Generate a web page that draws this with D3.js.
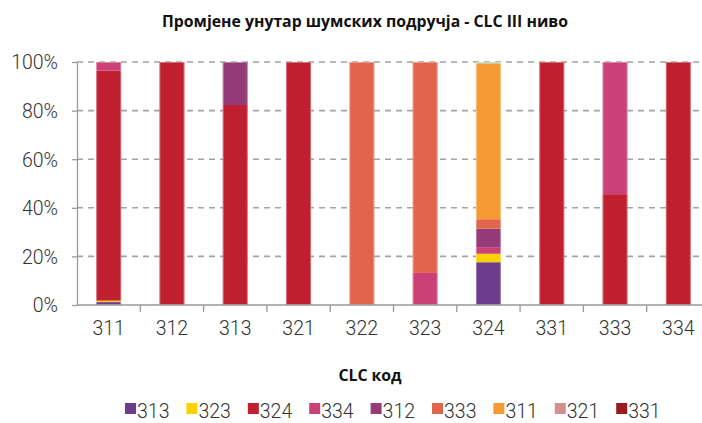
<!DOCTYPE html>
<html><head><meta charset="utf-8">
<script src="https://cdn.jsdelivr.net/npm/d3@7"></script>
<style>
html,body{margin:0;padding:0;background:#fff;}
svg{display:block;}
</style></head>
<body>
<svg id="chart" width="702" height="423"></svg>
<script>
const categories = ["311","312","313","321","322","323","324","331","333","334"];
const seriesKeys = ["313","323","324","334","312","333","311","321","331","other"];
const legendKeys = ["313","323","324","334","312","333","311","321","331"];
const seriesColors = ["#6d3d8c","#fdd100","#c01f2f","#cc4078","#953b77","#e0654c","#f69a35","#d58e8e","#9a1b1f","#c3c99b"];
// percentage values per series, in category order
const s313   = [1.2, 0, 0, 0, 0, 0, 17.6, 0, 0, 0];
const s323   = [0.6, 0, 0, 0, 0, 0, 3.5, 0, 0, 0];
const s324   = [94.6, 100, 82.3, 100, 0, 0, 0, 100, 45.6, 100];
const s334   = [3.6, 0, 0, 0, 0, 13.2, 2.7, 0, 54.4, 0];
const s312   = [0, 0, 17.7, 0, 0, 0, 7.6, 0, 0, 0];
const s333   = [0, 0, 0, 0, 100, 86.8, 3.9, 0, 0, 0];
const s311   = [0, 0, 0, 0, 0, 0, 63.9, 0, 0, 0];
const s321   = [0, 0, 0, 0, 0, 0, 0, 0, 0, 0];
const s331   = [0, 0, 0, 0, 0, 0, 0, 0, 0, 0];
const sOther = [0, 0, 0, 0, 0, 0, 0.8, 0, 0, 0];
const yTicks = [0,20,40,60,80,100];
const titleText = "Промјене унутар шумских подручја - CLC III ниво";
const xTitleText = "CLC код";

const seriesValues = [s313,s323,s324,s334,s312,s333,s311,s321,s331,sOther];
const rows = categories.map((c,i)=>{
  const r = {cat:c};
  seriesKeys.forEach((k,j)=>{ r[k] = seriesValues[j][i]; });
  return r;
});
const color = d3.scaleOrdinal().domain(seriesKeys).range(seriesColors);

const svg = d3.select("#chart");
const mLeft = 77, mTop = 62, mBottom = 305;
const step = 63.3;
const labelFont = "Roboto, sans-serif", labelSize = 19.5;
const x = d3.scaleBand().domain(categories).range([mLeft, mLeft + step*categories.length])
  .paddingInner(0.605).paddingOuter(0.3025);
const y = d3.scaleLinear().domain([0,100]).range([mBottom, mTop]);

// title
svg.append("text").attr("x", 365).attr("y", 27).attr("text-anchor","middle")
  .attr("font-family","'Open Sans', sans-serif").attr("font-weight",700).attr("font-size",15.8)
  .attr("fill","#111").text(titleText);

// gridlines
svg.append("g").selectAll("line").data(yTicks.filter(t=>t>0)).join("line")
  .attr("x1", mLeft).attr("x2", 702).attr("y1", d=>y(d)).attr("y2", d=>y(d))
  .attr("stroke","#a3a3a3").attr("stroke-width",1.6).attr("stroke-dasharray","6,5");

// bars
const stack = d3.stack().keys(seriesKeys)(rows);
svg.append("g").selectAll("g").data(stack).join("g")
  .attr("fill", d=>color(d.key))
  .selectAll("rect").data(d=>d.filter(p=>p[1]-p[0]>0)).join("rect")
  .attr("x", d=>x(d.data.cat)).attr("width", x.bandwidth())
  .attr("y", d=>y(d[1])).attr("height", d=>y(d[0])-y(d[1]));
// light bar outline
svg.append("g").selectAll("rect").data(rows).join("rect")
  .attr("x", d=>x(d.cat)+0.5).attr("width", x.bandwidth()-1)
  .attr("y", d=>y(d3.sum(seriesKeys, k=>d[k]))+0.5)
  .attr("height", d=>y(0)-y(d3.sum(seriesKeys, k=>d[k]))-1)
  .attr("fill","none").attr("stroke","rgba(255,255,255,0.35)").attr("stroke-width",1);

// y axis
const yAxis = svg.append("g").attr("transform",`translate(${mLeft},0)`)
  .call(d3.axisLeft(y).tickValues(yTicks).tickFormat(d=>d+"%").tickSize(5).tickSizeOuter(0));
yAxis.select(".domain").attr("stroke","#999").attr("stroke-width",1.3);
yAxis.selectAll(".tick line").attr("stroke","#999").attr("stroke-width",1.3);
yAxis.selectAll("text").attr("x",-19).attr("dy","0.35em")
  .attr("font-family",labelFont).attr("font-weight",300).attr("font-size",labelSize).attr("fill","#333");

// x axis line
svg.append("line").attr("x1",mLeft).attr("x2",702).attr("y1",mBottom).attr("y2",mBottom)
  .attr("stroke","#999").attr("stroke-width",1.3);
// x ticks between categories
const tickPos = categories.map(c=>x(c)+x.bandwidth()+x.step()*x.paddingInner()/2);
svg.append("g").selectAll("line").data(tickPos).join("line")
  .attr("x1",d=>d).attr("x2",d=>d).attr("y1",mBottom).attr("y2",mBottom+7)
  .attr("stroke","#999").attr("stroke-width",1.3);
svg.append("g").selectAll("text").data(categories).join("text")
  .attr("x",d=>x(d)+x.bandwidth()/2).attr("y",335).attr("text-anchor","middle")
  .attr("font-family",labelFont).attr("font-weight",300).attr("font-size",labelSize).attr("fill","#333")
  .text(d=>d);

// x title
svg.append("text").attr("x",370).attr("y",381).attr("text-anchor","middle")
  .attr("font-family","'Open Sans', sans-serif").attr("font-weight",700).attr("font-size",15.8)
  .attr("fill","#111").text(xTitleText);

// legend
const lg = svg.append("g").selectAll("g").data(legendKeys).join("g")
  .attr("transform",(d,i)=>`translate(${125 + i*61.4},0)`);
lg.append("rect").attr("x",0).attr("y",403).attr("width",11).attr("height",11).attr("fill",d=>color(d));
lg.append("text").attr("x",12).attr("y",418)
  .attr("font-family",labelFont).attr("font-weight",300).attr("font-size",labelSize).attr("fill","#333")
  .text(d=>d);
</script>
</body></html>
